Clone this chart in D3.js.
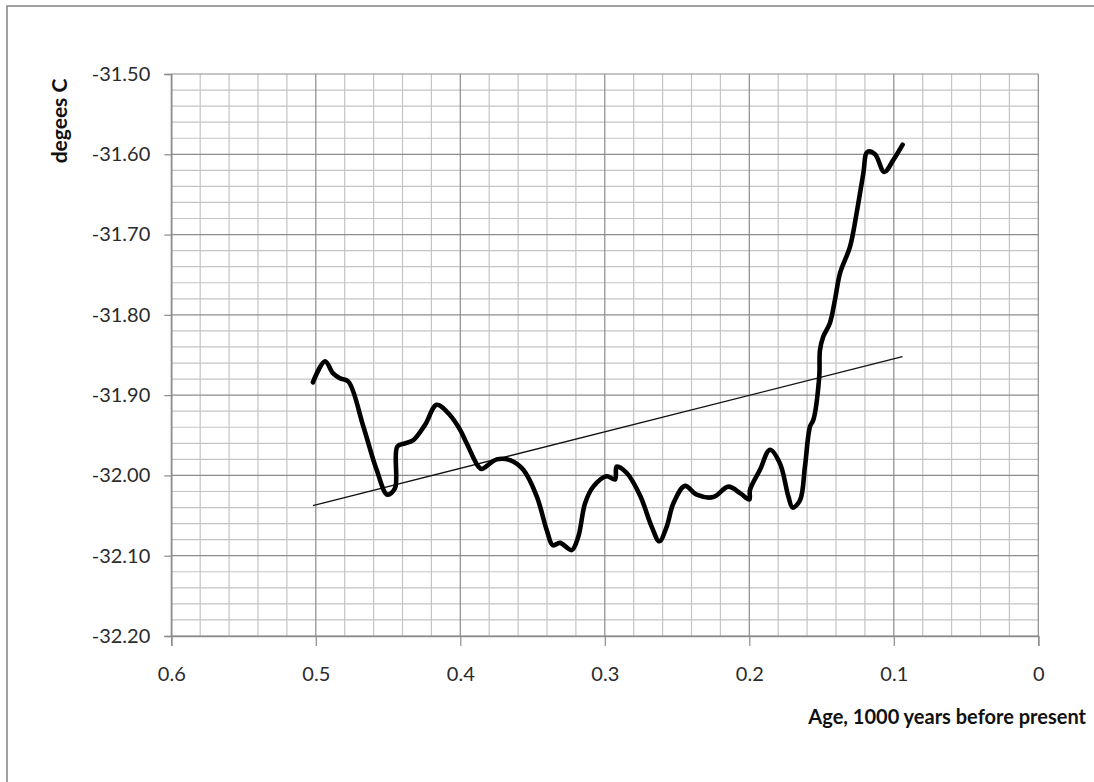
<!DOCTYPE html>
<html>
<head>
<meta charset="utf-8">
<script src="https://cdn.jsdelivr.net/npm/d3@7"></script>
<style>
  html, body { margin: 0; padding: 0; background: #fff; }
  svg { display: block; }
  text { font-family: Lato, "Open Sans", "Liberation Sans", sans-serif; }
</style>
</head>
<body>
<svg id="chart" width="1094" height="782"></svg>
<script>
// ---- data ----
const age = [0.502, 0.4936, 0.488, 0.4833, 0.4775, 0.4671, 0.4579, 0.4505, 0.4452, 0.4436, 0.4383, 0.4325, 0.4244, 0.4163, 0.4071, 0.4002, 0.3956, 0.3875, 0.3852, 0.3748, 0.3656, 0.3564, 0.3471, 0.3402, 0.336, 0.331, 0.3229, 0.3183, 0.3137, 0.308, 0.2987, 0.2929, 0.2918, 0.2848, 0.2756, 0.2675, 0.2623, 0.2572, 0.2526, 0.2445, 0.2364, 0.2249, 0.2145, 0.2064, 0.2000, 0.1995, 0.1926, 0.1857, 0.1788, 0.173, 0.170, 0.1649, 0.1615, 0.158, 0.1557, 0.1516, 0.1511, 0.1488, 0.1442, 0.1407, 0.1372, 0.1303, 0.1257, 0.1211, 0.1183, 0.113, 0.1066, 0.1003, 0.0939];
const temp = [-31.884, -31.858, -31.873, -31.879, -31.883, -31.939, -31.993, -32.024, -32.016, -31.964, -31.960, -31.956, -31.937, -31.912, -31.925, -31.943, -31.960, -31.989, -31.992, -31.980, -31.981, -31.993, -32.026, -32.068, -32.087, -32.084, -32.093, -32.076, -32.035, -32.014, -32.001, -32.005, -31.989, -31.997, -32.025, -32.064, -32.082, -32.064, -32.035, -32.013, -32.024, -32.027, -32.014, -32.022, -32.030, -32.018, -31.993, -31.968, -31.985, -32.026, -32.040, -32.031, -31.989, -31.939, -31.931, -31.877, -31.844, -31.827, -31.810, -31.781, -31.748, -31.715, -31.673, -31.624, -31.597, -31.600, -31.622, -31.607, -31.588];
const trendAge = [0.502, 0.094];
const trendTemp = [-32.0376, -31.852];
const xTicks = [0.6, 0.5, 0.4, 0.3, 0.2, 0.1, 0];
const yTicks = [-32.2, -32.1, -32.0, -31.9, -31.8, -31.7, -31.6, -31.5];
const xTitle = "Age, 1000 years before present";
const yTitle = "degees C";

// ---- layout ----
const svg = d3.select("#chart");
const L = 171.3, R = 1038.3, T = 74, B = 636;
const x = d3.scaleLinear().domain([0.6, 0]).range([L, R]);
const y = d3.scaleLinear().domain([-32.2, -31.5]).range([B, T]);

// outer border (chart area frame, right/bottom off-canvas)
svg.append("rect").attr("x", 7).attr("y", 6).attr("width", 1200).attr("height", 900)
  .attr("fill", "none").attr("stroke", "#8a8a8a").attr("stroke-width", 1.6);

// minor gridlines
const minorX = d3.range(0, 31).map(i => i * 0.02).filter(v => Math.round(v * 100) % 10 !== 0);
const minorY = d3.range(0, 36).map(i => -32.2 + i * 0.02).filter(v => Math.round(Math.abs(v) * 100) % 10 !== 0);
const g = svg.append("g");
g.selectAll(".mx").data(minorX).join("line")
  .attr("x1", d => x(d)).attr("x2", d => x(d)).attr("y1", T).attr("y2", B)
  .attr("stroke", "#c4c4c4").attr("stroke-width", 1.2);
g.selectAll(".my").data(minorY).join("line")
  .attr("x1", L).attr("x2", R).attr("y1", d => y(d)).attr("y2", d => y(d))
  .attr("stroke", "#c4c4c4").attr("stroke-width", 1.2);
// major gridlines
g.selectAll(".Mx").data(xTicks).join("line")
  .attr("x1", d => x(d)).attr("x2", d => x(d)).attr("y1", T).attr("y2", B)
  .attr("stroke", "#8c8c8c").attr("stroke-width", 1.2);
g.selectAll(".My").data(yTicks).join("line")
  .attr("x1", L).attr("x2", R).attr("y1", d => y(d)).attr("y2", d => y(d))
  .attr("stroke", "#8c8c8c").attr("stroke-width", 1.2);

// axes
const yAxis = svg.append("g").attr("transform", `translate(${L},0)`)
  .call(d3.axisLeft(y).tickValues(yTicks).tickFormat(d => d.toFixed(2)).tickSize(7).tickPadding(14));
const xAxis = svg.append("g").attr("transform", `translate(0,${B})`)
  .call(d3.axisBottom(x).tickValues(xTicks).tickFormat(d => d === 0 ? "0" : d.toFixed(1)).tickSize(10).tickPadding(21));
[yAxis, xAxis].forEach(a => {
  a.select(".domain").attr("stroke", "#8c8c8c").attr("stroke-width", 1.4);
  a.selectAll(".tick line").attr("stroke", "#8c8c8c").attr("stroke-width", 1.2);
  a.selectAll(".tick text").attr("fill", "#2b2b2b").style("font-size", "20px")
    .style("font-family", "Lato, 'Open Sans', sans-serif");
});

// trend line
const pts = age.map((a, i) => [a, temp[i]]);
svg.append("line")
  .attr("x1", x(trendAge[0])).attr("y1", y(trendTemp[0]))
  .attr("x2", x(trendAge[1])).attr("y2", y(trendTemp[1]))
  .attr("stroke", "#111").attr("stroke-width", 1.4);

// main curve
const line = d3.line().x(d => x(d[0])).y(d => y(d[1])).curve(d3.curveCatmullRom.alpha(0.5));
svg.append("path").datum(pts).attr("d", line)
  .attr("fill", "none").attr("stroke", "#000").attr("stroke-width", 4.6)
  .attr("stroke-linejoin", "round").attr("stroke-linecap", "round");

// titles
svg.append("text").attr("transform", "translate(67,121) rotate(-90)")
  .attr("text-anchor", "middle").attr("font-weight", "bold").style("font-size", "21px")
  .attr("fill", "#111").text(yTitle);
svg.append("text").attr("x", 1086).attr("y", 724)
  .attr("text-anchor", "end").attr("font-weight", "bold").style("font-size", "20px")
  .attr("fill", "#111").text(xTitle);
</script>
</body>
</html>
